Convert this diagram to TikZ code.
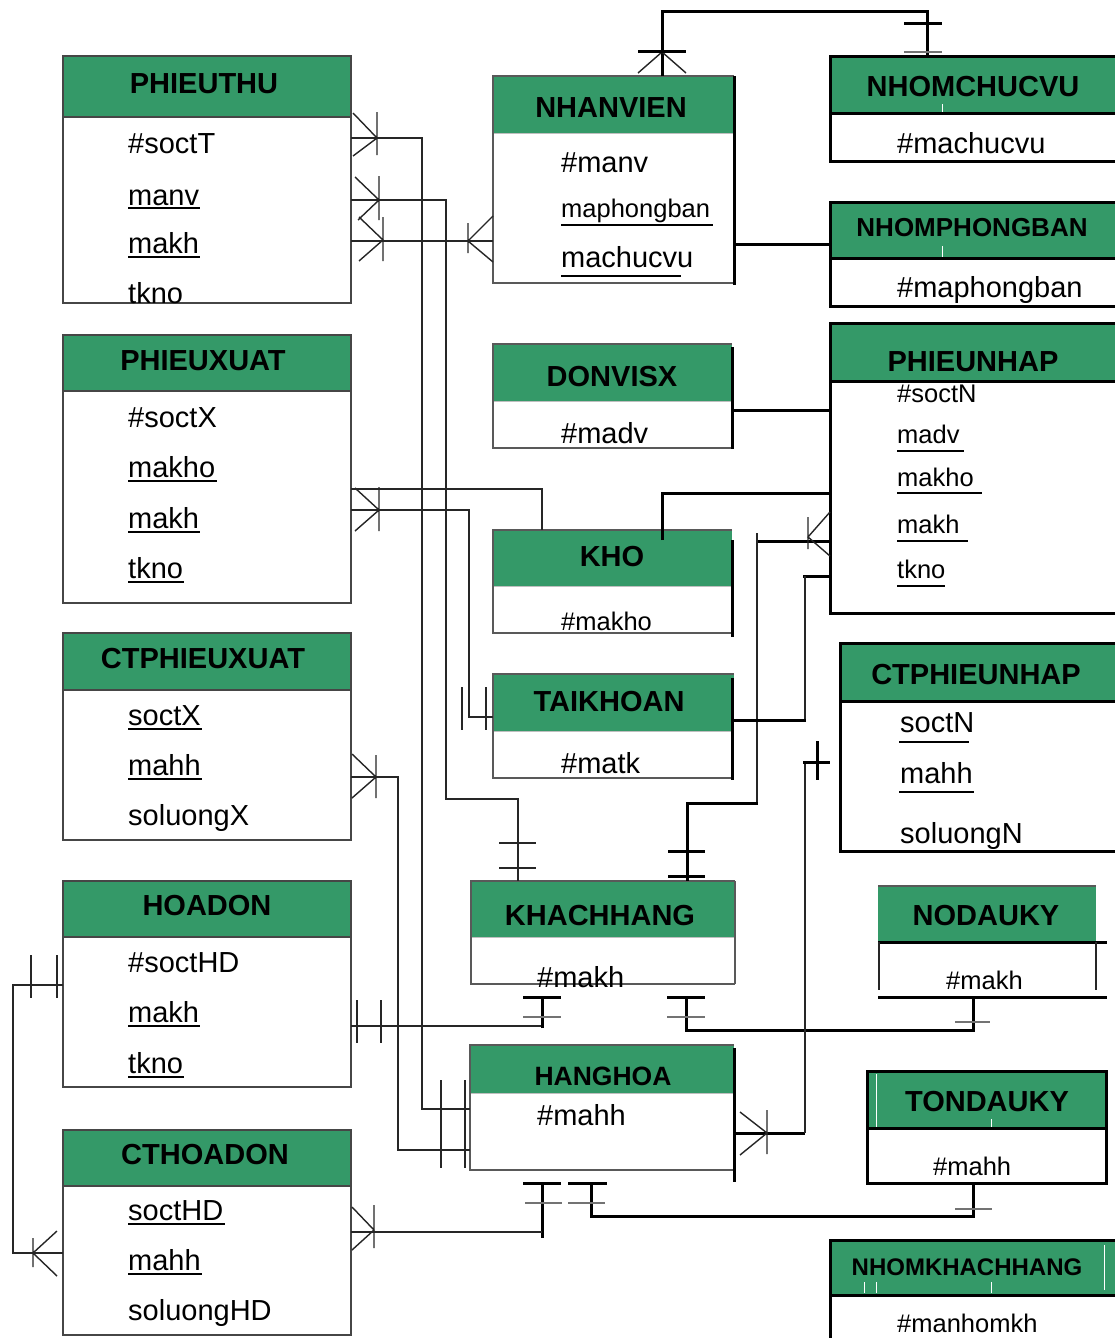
\documentclass[tikz,border=0pt]{standalone}
\usepackage{fontspec}
\setmainfont{Liberation Sans}
\usetikzlibrary{fit}

\definecolor{hdrgreen}{RGB}{52,153,104}
\definecolor{rimgray}{RGB}{70,70,70}

\tikzset{
  thinln/.style={draw=black!85, line width=1.4pt},
  grayln/.style={draw=black!55, line width=1.5pt},
  thickln/.style={draw=black, line width=3pt},
  rim/.style={draw=rimgray, line width=1.6pt},
  softrim/.style={draw=black!65, line width=1.5pt},
  ttl/.style={inner sep=0pt, font=\fontsize{29}{34}\selectfont\bfseries},
  attr/.style={anchor=base west, inner sep=0pt, font=\fontsize{29}{34}\selectfont},
  attrsm/.style={anchor=base west, inner sep=0pt, font=\fontsize{25.5}{30}\selectfont},
  uline/.style={draw=black, line width=2.8pt},
  artefact/.style={draw=white, line width=1pt},
}

% entity frame: name, x1, y1, x2, y2, bottom of header
\newcommand\erframe[6]{%
  \fill[hdrgreen] (#2,#3) rectangle (#4,#6);
  \node[fit={(#2,#3) (#4,#5)}, inner sep=0pt, outer sep=0pt] (#1) {};}
\newcommand\erboxL[6]{\erframe{#1}{#2}{#3}{#4}{#5}{#6}%
  \draw[rim] (#2,#3) rectangle (#4,#5) (#2,#6) -- (#4,#6);}
\newcommand\erboxR[6]{\erframe{#1}{#2}{#3}{#4}{#5}{#6}%
  \draw[thickln] (#2,#3) rectangle (#4,#5) (#2,#6) -- (#4,#6);}
\newcommand\erboxM[6]{\erframe{#1}{#2}{#3}{#4}{#5}{#6}%
  \draw[black!25, line width=1pt] (#2,#6) -- (#4,#6);
  \draw[softrim] (#4,#3) -- (#2,#3) -- (#2,#5) -- (#4,#5);}
% key underline: x1, x2, y
\newcommand\undl[3]{\draw[uline] (#1,#3) -- (#2,#3);}

\begin{document}
\begin{tikzpicture}[x=1pt,y=-1pt]
\fill[white] (0,0) rectangle (1115,1338);
\useasboundingbox (0,0) rectangle (1115,1338);
\clip (0,0) rectangle (1115,1338);

% ---------- entities, left column
\erboxL{phieuthu}{63}{56}{351}{303}{117}
\erboxL{phieuxuat}{63}{335}{351}{603}{391}
\erboxL{ctphieuxuat}{63}{633}{351}{840}{690}
\erboxL{hoadon}{63}{881}{351}{1087}{937}
\erboxL{cthoadon}{63}{1130}{351}{1335}{1186}

% ---------- entities, middle column
\erboxM{nhanvien}{493}{76}{734}{283}{133}
\draw[thickln] (734,76) -- (734,285);
\erboxM{donvisx}{493}{344}{732}{448}{401}
\draw[thickln] (732,347) -- (732,449);
\erboxM{kho}{493}{530}{732}{633}{586}
\draw[thickln] (732,540) -- (732,637);
\erboxM{taikhoan}{493}{674}{734}{778}{731}
\draw[thickln] (732,678) -- (732,780);
\erboxM{khachhang}{471}{881}{735}{984}{937}
\draw[softrim] (735,881) -- (735,984);
\erboxM{hanghoa}{470}{1045}{734}{1170}{1093}
\draw[thickln] (734,1048) -- (734,1182);

% ---------- entities, right column
\erboxR{nhomchucvu}{830}{57}{1125}{161}{113}
\erboxR{nhomphongban}{830}{202}{1125}{306}{258}
\erboxR{phieunhap}{830}{323}{1125}{613}{381}
\erboxR{ctphieunhap}{840}{643}{1125}{851}{701}
\erboxR{tondauky}{867}{1071}{1106}{1183}{1128}
\erboxR{nhomkhachhang}{830}{1240}{1125}{1360}{1295}

% NODAUKY has open sides
\fill[hdrgreen] (878,886) rectangle (1096,941);
\node[fit={(878,886) (1107,997)}, inner sep=0pt, outer sep=0pt] (nodauky) {};
\draw[softrim] (878,886) -- (1096,886);
\draw[thickln] (878,942) -- (1107,942) (878,997) -- (1107,997);
\draw[thinln] (879,942) -- (879,990) (1096,942) -- (1096,990);

% small white slits in some headers
\draw[artefact] (942,104) -- (942,112);
\draw[artefact] (942,246) -- (942,257);
\draw[artefact] (876,1074) -- (876,1127) (991,1119) -- (991,1127);
\draw[artefact] (864,1282) -- (864,1293) (876,1282) -- (876,1293)
                (991,1282) -- (991,1293) (1104,1245) -- (1104,1290);

% ---------- connectors
% NHANVIEN -- NHOMCHUCVU
\draw[thickln] (nhanvien.north -| 662,0) -- (662,12) -| (nhomchucvu.north -| 927,0);
% NHANVIEN -- NHOMPHONGBAN
\draw[thickln] (nhanvien.east |- 0,244) -- (nhomphongban.west |- 0,244);
% DONVISX -- PHIEUNHAP
\draw[thickln] (donvisx.east |- 0,410) -- (phieunhap.west |- 0,410);
% KHO -- PHIEUNHAP
\draw[thickln] (662,540) -- (662,493) -- (phieunhap.west |- 0,493);
% PHIEUTHU -- HANGHOA
\draw[thinln] (phieuthu.east |- 0,138) -| (422,1109) -- (hanghoa.west |- 0,1109);
% PHIEUTHU -- KHACHHANG
\draw[thinln] (phieuthu.east |- 0,200) -| (446,799) -| (khachhang.north -| 518,0);
% PHIEUTHU -- NHANVIEN
\draw[thinln] (phieuthu.east |- 0,241) -- (nhanvien.west |- 0,241);
% PHIEUXUAT -- KHO
\draw[thinln] (phieuxuat.east |- 0,489) -| (kho.north -| 542,0);
% PHIEUXUAT -- TAIKHOAN
\draw[thinln] (phieuxuat.east |- 0,510) -| (469,717) -- (taikhoan.west |- 0,717);
% CTPHIEUXUAT -- HANGHOA
\draw[thinln] (ctphieuxuat.east |- 0,777) -| (398,1150) -- (hanghoa.west |- 0,1150);
% HOADON -- CTHOADON
\draw[thinln] (hoadon.west |- 0,985) -| (13,1253) -- (cthoadon.west |- 0,1253);
% HOADON -- KHACHHANG
\draw[thinln] (hoadon.east |- 0,1026) -- (542,1026);
\draw[thickln] (542,1028) -- (542,997);
% KHACHHANG -- NODAUKY
\draw[thickln] (686,997) |- (973,1030) -- (nodauky.south -| 973,0);
% HANGHOA -- CTPHIEUNHAP
\draw[thickln] (hanghoa.east |- 0,1133) -- (805,1133);
\draw[thinln] (805,1133) -- (805,762);
\draw[thickln] (803,762) -- (830,762);
% HANGHOA -- TONDAUKY
\draw[thickln] (591,1183) |- (973,1216) -- (tondauky.south -| 973,0);
% HANGHOA -- CTHOADON
\draw[thickln] (542,1183) -- (542,1238);
\draw[thinln] (cthoadon.east |- 0,1232) -- (542,1232);
% PHIEUNHAP -- KHACHHANG
\draw[thickln] (phieunhap.west |- 0,541) -- (756,541);
\draw[thinln] (757,533) -- (757,803);
\draw[thickln] (758,803) -| (khachhang.north -| 687,0);
% PHIEUNHAP -- TAIKHOAN
\draw[thickln] (phieunhap.west |- 0,576) -- (803,576);
\draw[thinln] (805,576) -- (805,720);
\draw[thickln] (806,720) -- (taikhoan.east |- 0,720);

% ---------- cardinality marks
\draw[thinln] (377,112) -- (377,155) (353,113) -- (377,138) -- (353,156);
\draw[thinln] (379,176) -- (379,220) (355,177) -- (379,200) -- (358,220);
\draw[thinln] (383,217) -- (383,261) (359,217) -- (383,240) -- (359,261);
\draw[thinln] (468,223) -- (468,253) (493,216) -- (468,241) -- (493,262);
\draw[thinln] (379,487) -- (379,531) (355,488) -- (379,510) -- (355,531);
\draw[thinln] (462,687) -- (462,730) (486,687) -- (486,730);
\draw[thinln] (376,755) -- (376,798) (352,754) -- (376,777) -- (352,798);
\draw[thinln] (441,1080) -- (441,1168) (465,1080) -- (465,1168);
\draw[thinln] (31,955) -- (31,998) (57,955) -- (57,998);
\draw[thinln] (357,1000) -- (357,1043) (381,1000) -- (381,1043);
\draw[thinln] (33,1238) -- (33,1267) (57,1231) -- (33,1253) -- (57,1276);
\draw[thinln] (374,1205) -- (374,1248) (352,1207) -- (374,1230) -- (352,1250);
\draw[thinln] (499,843) -- (536,843) (499,868) -- (536,868);
\draw[thinln] (767,1110) -- (767,1154) (740,1112) -- (767,1133) -- (740,1155);
\draw[thinln] (808,517) -- (808,549) (830,512) -- (808,537) -- (830,556);
\draw[thinln] (638,73) -- (662,52) -- (686,73);
\draw[thickln] (638,52) -- (686,52);
\draw[thickln] (904,24) -- (942,24);
\draw[grayln] (904,52) -- (942,52);
\draw[thickln] (523,997) -- (561,997) (667,997) -- (705,997);
\draw[grayln] (523,1017) -- (561,1017) (667,1017) -- (705,1017);
\draw[grayln] (955,1022) -- (990,1022);
\draw[thickln] (523,1183) -- (561,1183) (568,1183) -- (607,1183);
\draw[grayln] (525,1203) -- (562,1203) (568,1203) -- (605,1203);
\draw[grayln] (955,1209) -- (992,1209);
\draw[thickln] (668,851) -- (705,851) (668,876) -- (705,876);
\draw[thickln] (817,741) -- (817,780);

% ---------- titles
\node[ttl] (t-phieuthu) at (204,84) {PHIEUTHU};
\node[ttl] (t-nhanvien) at (611,108) {NHANVIEN};
\node[ttl] (t-nhomchucvu) at (973,87) {NHOMCHUCVU};
\node[ttl, font=\fontsize{26}{30}\selectfont\bfseries] (t-nhomphongban) at (972,228) {NHOMPHONGBAN};
\node[ttl] (t-phieuxuat) at (203,361) {PHIEUXUAT};
\node[ttl] (t-donvisx) at (612,377) {DONVISX};
\node[ttl] (t-phieunhap) at (973,362) {PHIEUNHAP};
\node[ttl] (t-kho) at (612,557) {KHO};
\node[ttl] (t-ctphieuxuat) at (203,659) {CTPHIEUXUAT};
\node[ttl] (t-taikhoan) at (609,702) {TAIKHOAN};
\node[ttl] (t-ctphieunhap) at (976,675) {CTPHIEUNHAP};
\node[ttl] (t-hoadon) at (207,906) {HOADON};
\node[ttl] (t-khachhang) at (600,916) {KHACHHANG};
\node[ttl] (t-nodauky) at (986,916) {NODAUKY};
\node[ttl, font=\fontsize{26.5}{30}\selectfont\bfseries] (t-hanghoa) at (603,1076) {HANGHOA};
\node[ttl] (t-tondauky) at (987,1102) {TONDAUKY};
\node[ttl] (t-cthoadon) at (205,1155) {CTHOADON};
\node[ttl, font=\fontsize{24}{28}\selectfont\bfseries] (t-nhomkhachhang) at (967,1267) {NHOMKHACHHANG};

% ---------- attributes
\node[attr] (pt-1) at (128,153) {\#soctT};
\node[attr] (pt-2) at (128,205) {manv};     \undl{128}{200}{208}
\node[attr] (pt-3) at (128,253) {makh};     \undl{128}{200}{257}
\node[attr] (pt-4) at (128,303) {tkno};

\node[attr] (px-1) at (128,427) {\#soctX};
\node[attr] (px-2) at (128,477) {makho};    \undl{128}{217}{481}
\node[attr] (px-3) at (128,528) {makh};     \undl{128}{200}{532}
\node[attr] (px-4) at (128,578) {tkno};     \undl{128}{184}{582}

\node[attr] (cx-1) at (128,725) {soctX};    \undl{128}{202}{729}
\node[attr] (cx-2) at (128,775) {mahh};     \undl{128}{202}{779}
\node[attr] (cx-3) at (128,825) {soluongX};

\node[attr] (hd-1) at (128,972) {\#soctHD};
\node[attr] (hd-2) at (128,1022) {makh};    \undl{128}{200}{1026}
\node[attr] (hd-3) at (128,1073) {tkno};    \undl{128}{184}{1077}

\node[attr] (ch-1) at (128,1220) {soctHD};  \undl{128}{225}{1224}
\node[attr] (ch-2) at (128,1270) {mahh};    \undl{128}{202}{1274}
\node[attr] (ch-3) at (128,1320) {soluongHD};

\node[attr] (nv-1) at (561,172) {\#manv};
\node[attrsm] (nv-2) at (561,217) {maphongban}; \undl{561}{713}{225}
\node[attr] (nv-3) at (561,267) {machucvu};     \undl{561}{681}{276}

\node[attr] (cv-1) at (897,153) {\#machucvu};
\node[attr] (pb-1) at (897,297) {\#maphongban};
\node[attr] (dv-1) at (561,443) {\#madv};
\node[attrsm] (kh-1) at (561,630) {\#makho};
\node[attr] (tk-1) at (561,773) {\#matk};

\node[attrsm] (pn-1) at (897,402) {\#soctN};
\node[attrsm] (pn-2) at (897,443) {madv};   \undl{897}{964}{451}
\node[attrsm] (pn-3) at (897,486) {makho};  \undl{897}{982}{493}
\node[attrsm] (pn-4) at (897,533) {makh};   \undl{897}{968}{541}
\node[attrsm] (pn-5) at (897,578) {tkno};   \undl{897}{945}{586}

\node[attr] (cn-1) at (900,732) {soctN};    \undl{899}{969}{742}
\node[attr] (cn-2) at (900,783) {mahh};     \undl{899}{974}{792}
\node[attr] (cn-3) at (900,843) {soluongN};

\node[attr] (kg-1) at (537,987) {\#makh};
\node[attrsm] (nd-1) at (946,989) {\#makh};
\node[attr] (hh-1) at (537,1125) {\#mahh};
\node[attrsm] (td-1) at (933,1175) {\#mahh};
\node[attrsm] (nk-1) at (897,1332) {\#manhomkh};
\end{tikzpicture}
\end{document}
